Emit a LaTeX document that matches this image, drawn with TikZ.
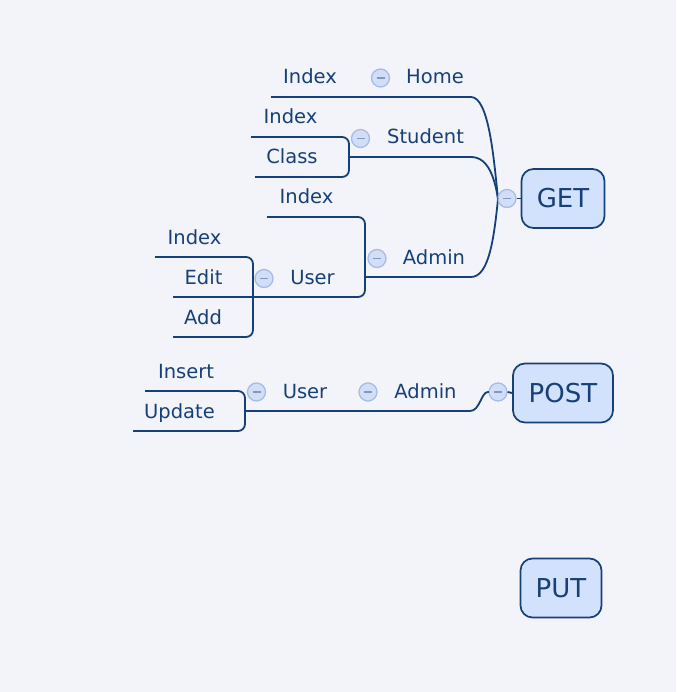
\documentclass[tikz,border=0pt]{standalone}
\usepackage{fontspec}
\setmainfont{DejaVu Sans}
\definecolor{navy}{RGB}{22,64,120}
\definecolor{paper}{RGB}{243,244,250}
\definecolor{boxblue}{RGB}{211,226,252}
\definecolor{foldfill}{RGB}{210,222,246}
\definecolor{foldline}{RGB}{165,188,232}
\definecolor{foldminus}{RGB}{130,152,196}
\tikzstyle{topic}=[text=navy,font=\fontsize{19.5}{19.5}\selectfont,inner sep=0pt,anchor=base]
\tikzstyle{method}=[draw=navy,fill=boxblue,rounded corners=12pt,line width=1.7pt,text=navy,font=\fontsize{26}{26}\selectfont,minimum height=59pt,inner sep=0pt]
\tikzstyle{fold}=[circle,draw=foldline,fill=foldfill,line width=1.3pt,minimum size=18pt,inner sep=0pt,path picture={\draw[foldminus,line width=1.5pt] ([xshift=-4pt]path picture bounding box.center) -- ([xshift=4pt]path picture bounding box.center);}]
\tikzstyle{branch}=[draw=navy,line width=1.8pt]

\begin{document}
\begin{tikzpicture}[x=1pt,y=-1pt]
			\useasboundingbox[fill=paper] (0,0) rectangle (676,692);
			
			% method boxes
			\node (get) at (563,198.5) [method,minimum width=83pt] {GET};
			\node (post) at (563,393) [method,minimum width=100pt] {POST};
			\node (put) at (561,588) [method,minimum width=81pt] {PUT};
			
			% GET topics
			\node (homeindex) at (310,84) [topic] {Index};
			\node (home) at (435,84) [topic] {Home};
			\node (stuindex) at (290.5,124) [topic] {Index};
			\node (student) at (425.5,144) [topic] {Student};
			\node (class) at (292,164) [topic] {Class};
			\node (admindex) at (306.5,204) [topic] {Index};
			\node (admin) at (434,264) [topic] {Admin};
			\node (userindex) at (194.5,244) [topic] {Index};
			\node (edit) at (203.5,284) [topic] {Edit};
			\node (user) at (312.5,284) [topic] {User};
			\node (add) at (203,324) [topic] {Add};
			
			% POST topics
			\node (insert) at (186,378) [topic] {Insert};
			\node (update) at (179.5,418) [topic] {Update};
			\node (puser) at (305,398) [topic] {User};
			\node (padmin) at (425.5,398) [topic] {Admin};
			
			% corners of the branch lines
			\coordinate (gj) at (498,199);
			\coordinate (h0) at (271,97);
			\coordinate (h1) at (471,97);
			\coordinate (s0) at (251,137);
			\coordinate (s1) at (349,137);
			\coordinate (s2) at (349,177);
			\coordinate (s3) at (255,177);
			\coordinate (s4) at (349,157);
			\coordinate (s5) at (471,157);
			\coordinate (a0) at (267,217);
			\coordinate (a1) at (365,217);
			\coordinate (a2) at (365,297);
			\coordinate (a3) at (173,297);
			\coordinate (a4) at (365,277);
			\coordinate (a5) at (471,277);
			\coordinate (u0) at (155,257);
			\coordinate (u1) at (253,257);
			\coordinate (u2) at (253,337);
			\coordinate (u3) at (173,337);
			\coordinate (p0) at (145,391);
			\coordinate (p1) at (245,391);
			\coordinate (p2) at (245,431);
			\coordinate (p3) at (133,431);
			\coordinate (p4) at (245,411);
			\coordinate (p5) at (470,411);
			\coordinate (pj) at (488,392);
			
			\draw [branch] (h0) -- (h1) .. controls (489,97) and (494,160) .. (gj);
			\draw [branch] (s4) -- (s5) .. controls (489,157) and (495,180) .. (gj);
			\draw [branch] (a4) -- (a5) .. controls (489,277) and (494,238) .. (gj);
			\draw [branch,rounded corners=7pt] (s0) -- (s1) -- (s2) -- (s3);
			\draw [branch,rounded corners=7pt] (a0) -- (a1) -- (a2) -- (a3);
			\draw [branch,rounded corners=7pt] (u0) -- (u1) -- (u2) -- (u3);
			\draw [branch,rounded corners=7pt] (p0) -- (p1) -- (p2) -- (p3);
			\draw [branch] (p4) -- (p5) .. controls (480,411) and (481,392) .. (pj);
			
			% fold buttons
			\node (homefold) at (380.5,78) [fold] {};
			\node (stufold) at (360.5,138.5) [fold] {};
			\node (admfold) at (377,258.5) [fold] {};
			\node (userfold) at (264,278.5) [fold] {};
			\node (getfold) at (507,198.5) [fold] {};
			\node (pusrfold) at (256.5,392) [fold] {};
			\node (padmfold) at (368,392) [fold] {};
			\node (postfold) at (498,392) [fold] {};
			
			\draw [branch] (gj) -- (getfold.west);
			\draw [branch] (getfold.east) -- (get.west);
			\draw [branch] (pj) -- (postfold.west);
			\draw [branch] (postfold.east) -- (post.west);
		\end{tikzpicture}
\end{document}
